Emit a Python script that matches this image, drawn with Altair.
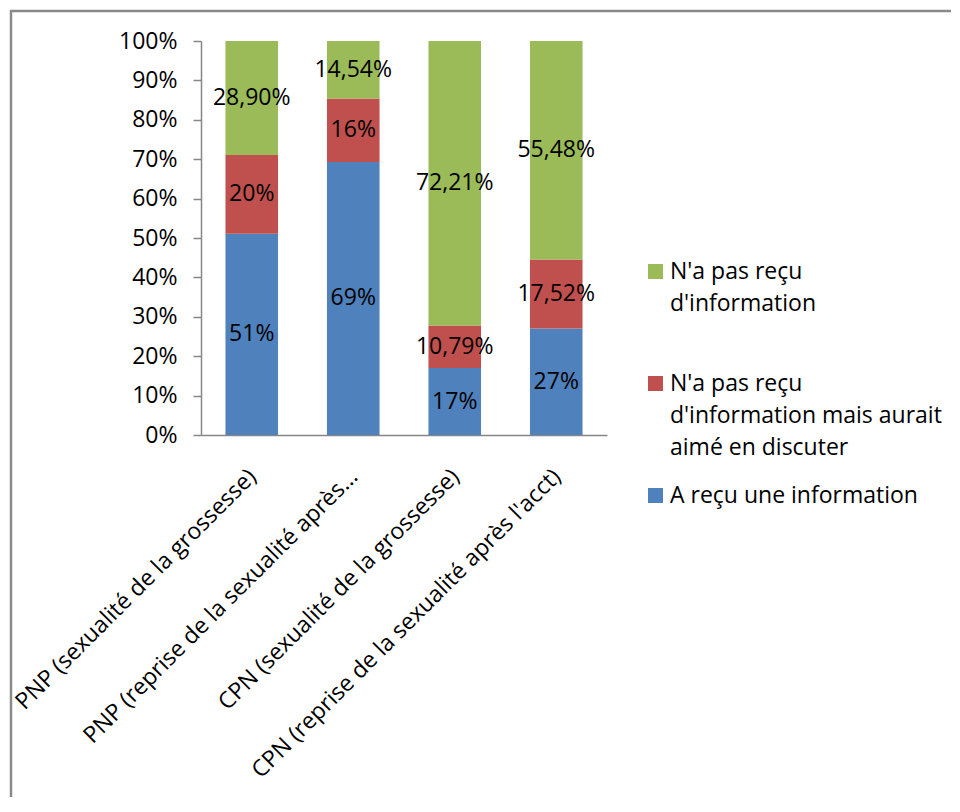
import json
import altair as alt
import pandas as pd

categories = [
    "PNP (sexualité de la grossesse)",
    "PNP (reprise de la sexualité après...",
    "CPN (sexualité de la grossesse)",
    "CPN (reprise de la sexualité après l'acct)",
]
series = [
    "A reçu une information",
    "N'a pas reçu d'information mais aurait aimé en discuter",
    "N'a pas reçu d'information",
]
# legend label lines
legend_lines = [
    ["A reçu une information"],
    ["N'a pas reçu", "d'information mais aurait", "aimé en discuter"],
    ["N'a pas reçu", "d'information", ""],
]
colors = ["#4F81BD", "#C0504D", "#9BBB59"]

blue_vals = [51, 69, 17, 27]
red_vals = [20, 16, 10.79, 17.52]
green_vals = [28.90, 14.54, 72.21, 55.48]
blue_labels = ["51%", "69%", "17%", "27%"]
red_labels = ["20%", "16%", "10,79%", "17,52%"]
green_labels = ["28,90%", "14,54%", "72,21%", "55,48%"]
y_ticks = [0, 0.1, 0.2, 0.3, 0.4, 0.5, 0.6, 0.7, 0.8, 0.9, 1.0]

rows = []
for si, (vals, labs) in enumerate([(blue_vals, blue_labels), (red_vals, red_labels), (green_vals, green_labels)]):
    for ci, cat in enumerate(categories):
        rows.append({"category": cat, "series": series[si], "order": si, "value": vals[ci], "label": labs[ci]})
df = pd.DataFrame(rows)

FONT = "Open Sans"
FS = 23
W, H = 406, 394

expr = ""
for name, lines in zip(series, legend_lines):
    expr += "datum.label === " + json.dumps(name) + " ? " + json.dumps(lines) + " : "
expr += "datum.label"

legend_domain = series[::-1]
legend_range = colors[::-1]

base = alt.Chart(df).transform_stack(
    stack="value", groupby=["category"], as_=["v0", "v1"], offset="normalize",
    sort=[alt.SortField("order", "ascending")],
).transform_calculate(mid="(datum.v0 + datum.v1) / 2")

x_axis = alt.Axis(title=None, labelAngle=-45, labelFontSize=FS, labelLimit=1000, ticks=False,
                  domainColor="#868686", domainWidth=1.5, labelColor="black", labelFont=FONT,
                  labelPadding=30, labelOffset=-7)
y_axis = alt.Axis(title=None, values=y_ticks, format=".0%", grid=False,
                  labelOverlap=False,
                  domainColor="#868686", domainWidth=1.5, tickColor="#868686",
                  tickSize=8, tickWidth=1.5, labelFontSize=FS, labelFont=FONT,
                  labelColor="black", labelPadding=16)
x_scale = alt.Scale(paddingInner=0.482, paddingOuter=0.241)
y_scale = alt.Scale(domain=[0, 1])

bars = base.mark_bar().encode(
    x=alt.X("category:N", sort=categories, scale=x_scale, axis=x_axis),
    y=alt.Y("v0:Q", scale=y_scale, axis=y_axis),
    y2="v1:Q",
    color=alt.Color("series:N", scale=alt.Scale(domain=legend_domain, range=legend_range),
                    legend=alt.Legend(title=None, orient="none", legendX=443, legendY=219,
                                      symbolType="square", symbolSize=225, symbolStrokeWidth=0,
                                      labelFontSize=FS, labelFont=FONT, labelColor="black",
                                      labelLimit=500, labelBaseline="middle", labelOffset=3,
                                      rowPadding=24, labelExpr=expr)),
)

texts = base.mark_text(fontSize=FS, font=FONT, color="black").encode(
    x=alt.X("category:N", sort=categories, scale=x_scale, axis=x_axis),
    y=alt.Y("mid:Q", scale=y_scale, axis=y_axis),
    text="label:N",
)

one = pd.DataFrame({"f": [0]})
frame_left = alt.Chart(one).mark_rule(color="#8a8a8a", strokeWidth=2.5).encode(
    x=alt.value(-190), y=alt.value(-31), y2=alt.value(2000)
)
frame_top = alt.Chart(one).mark_rule(color="#8a8a8a", strokeWidth=2.5).encode(
    x=alt.value(-191), x2=alt.value(2000), y=alt.value(-30)
)

chart = alt.layer(frame_left, frame_top, bars, texts).properties(
    width=W, height=H,
    autosize=alt.AutoSizeParams(type="none"),
    padding={"left": 193, "top": 33, "right": 344, "bottom": 362},
    view=alt.ViewBackground(stroke="transparent", strokeWidth=0),
).configure(
    style={"guide-label": {"lineHeight": 32},
           "cell": {"stroke": "transparent", "strokeWidth": 0}},
    view=alt.ViewConfig(stroke="transparent", strokeWidth=0),
)

chart.save("out.html", embed_options={"renderer": "svg", "actions": False})
